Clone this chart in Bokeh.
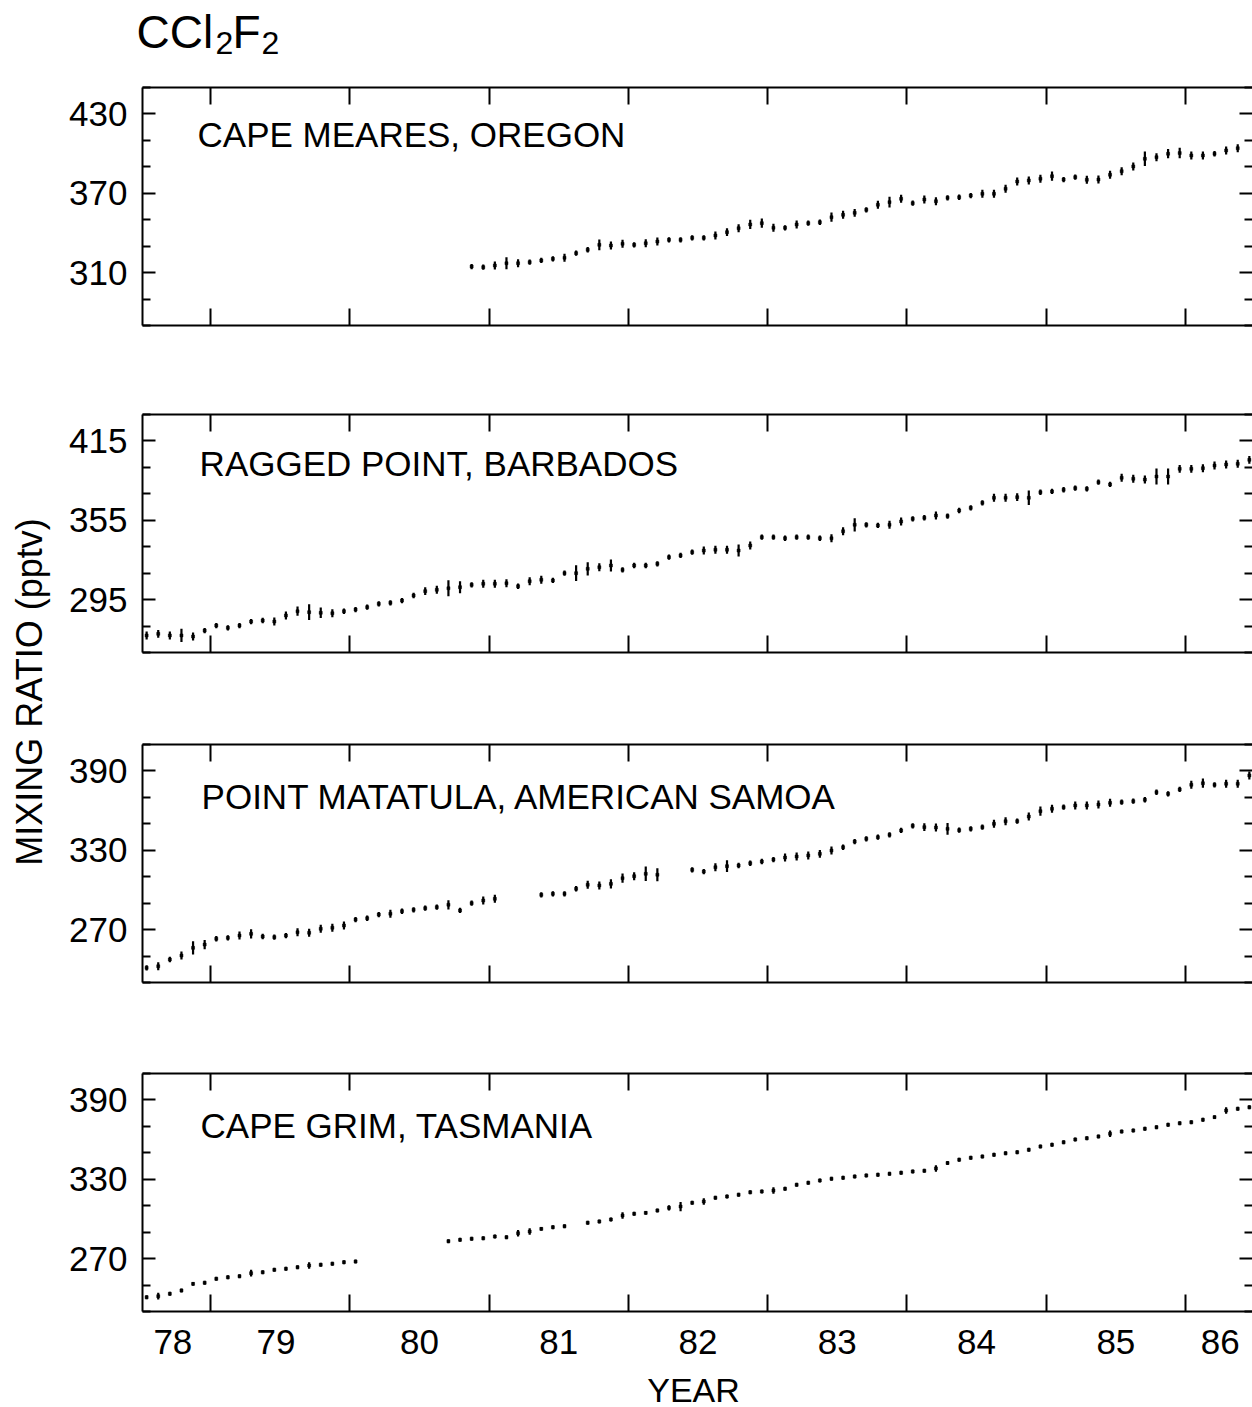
import math
from bokeh.plotting import figure
from bokeh.models import Range1d, LinearAxis, FixedTicker, ColumnDataSource
from bokeh.layouts import row, column
from bokeh.embed import file_html
from bokeh.resources import INLINE
from bokeh.core.properties import value

FONT = "Liberation Sans"

# ---------------- data (monthly means, pptv) ----------------
stations = ["CAPE MEARES, OREGON", "RAGGED POINT, BARBADOS",
            "POINT MATATULA, AMERICAN SAMOA", "CAPE GRIM, TASMANIA"]
first_month = [(1980, 11), (1978, 7), (1978, 7), (1978, 7)]

cape_meares = [314.6, 314.1, 315.4, 317.1, 317.1, 317.9, 319.2, 320.4, 321.2, 324.7,
               327.3, 331.0, 330.5, 331.8, 331.0, 332.2, 333.5, 334.8, 334.8, 336.3,
               336.3, 338.1, 340.6, 343.6, 346.4, 347.4, 343.9, 343.9, 346.4, 347.4,
               348.1, 351.9, 353.7, 355.2, 357.5, 361.3, 363.3, 365.8, 362.5, 365.3,
               364.0, 366.6, 367.0, 368.3, 369.6, 369.6, 373.4, 378.9, 379.7, 381.0,
               382.9, 380.4, 382.2, 380.2, 380.4, 384.0, 386.7, 390.3, 396.1, 397.3,
               399.9, 400.4, 398.6, 398.6, 399.9, 402.4, 404.1]
cape_meares_sd = [2, 2, 3, 4.5, 3, 2, 2, 2, 3, 2,
                  2, 4, 3, 3, 2, 3, 3, 2, 2, 2,
                  2, 3, 3, 3, 3.5, 3.5, 3, 2, 3, 2,
                  2, 3.5, 3, 3, 2, 3, 4, 3, 2, 3,
                  3, 2, 2, 2, 3, 3, 3, 3, 3, 3,
                  3.5, 2, 2, 3, 3, 3, 3, 3, 5.5, 3,
                  3.5, 4, 3, 3, 2, 3, 3]

ragged_point = [267.9, 269.1, 267.9, 267.9, 267.1, 271.6, 275.4, 273.7, 275.4, 278.4,
                279.2, 278.4, 283.0, 286.2, 285.5, 285.0, 284.7, 286.2, 287.5, 289.3,
                291.8, 292.6, 294.3, 298.1, 301.4, 302.4, 303.6, 304.4, 306.2, 307.0,
                307.0, 307.4, 305.1, 308.9, 310.0, 309.5, 315.0, 315.0, 318.3, 319.5,
                320.8, 317.5, 320.8, 320.8, 322.1, 327.1, 328.4, 330.9, 332.1, 332.7,
                332.7, 332.1, 335.9, 342.2, 342.2, 341.4, 342.2, 342.2, 341.4, 341.4,
                346.7, 351.6, 351.6, 351.1, 351.6, 354.1, 356.1, 356.9, 358.6, 358.2,
                362.4, 364.4, 368.2, 372.0, 372.0, 372.5, 372.0, 376.2, 376.8, 378.1,
                379.3, 378.8, 383.8, 382.1, 387.1, 386.4, 385.8, 388.1, 388.1, 393.9,
                393.9, 394.4, 396.4, 397.2, 397.7, 400.7]
ragged_point_sd = [3, 3, 3, 5, 3, 2, 2, 2, 2, 2,
                   2, 3, 3, 3.5, 6, 4, 3, 2, 2, 2,
                   2, 2, 2, 2, 3, 3, 6, 4.5, 2, 3,
                   3, 3, 2, 3, 3, 2, 2, 6, 5, 3,
                   4.5, 2, 2, 2, 2, 2, 2, 2, 3, 3,
                   3, 4.5, 3, 2, 2, 2, 2, 2, 2, 3,
                   3, 5, 2, 2, 3, 3, 2, 2, 3, 2,
                   2, 2, 2, 3, 3, 3, 5.5, 2, 2, 2,
                   2, 2, 2, 2, 3, 3, 3, 6, 6, 3,
                   3, 3, 3, 3, 3, 3]

point_matatula = [241.1, 242.3, 247.4, 250.4, 256.2, 258.7, 263.1, 263.8, 265.5, 266.8,
                  264.8, 264.3, 265.5, 268.0, 267.6, 270.6, 271.4, 273.1, 277.6, 278.6,
                  281.4, 282.0, 283.9, 285.0, 286.2, 287.0, 288.8, 284.5, 290.0, 292.0,
                  293.3, None, None, None, 296.3, 297.1, 297.1, 300.9, 303.9, 303.4,
                  304.6, 308.9, 310.4, 312.2, 311.5, None, None, 315.2, 313.9, 317.2,
                  318.0, 318.5, 320.2, 321.5, 323.0, 324.5, 325.3, 326.1, 327.3, 329.8,
                  332.3, 336.6, 338.7, 339.9, 341.7, 345.0, 348.5, 347.5, 347.2, 346.2,
                  345.2, 346.2, 347.5, 350.0, 352.0, 352.0, 355.5, 359.6, 361.4, 362.6,
                  363.9, 363.9, 364.6, 365.9, 366.4, 367.1, 368.2, 373.9, 372.7, 376.0,
                  379.5, 380.7, 379.5, 380.3, 380.3, 386.6]
point_matatula_sd = [2, 3, 2, 3, 5, 3.5, 2, 2, 3, 3.5,
                     2, 2, 2, 3, 3, 3, 3, 3, 2, 2,
                     2, 3, 2, 2, 2, 2, 3.5, 2, 2, 3,
                     3, None, None, None, 2, 2, 2, 2, 3, 3,
                     3.5, 3.5, 3, 5.5, 5, None, None, 2, 2, 3,
                     4.5, 2, 2, 2, 2, 3, 3, 3, 3, 3,
                     2, 2, 2, 2, 2, 2, 2, 3, 3, 4.5,
                     2, 2, 2, 3, 3, 2, 3, 3.5, 3, 2,
                     3, 3, 3, 3, 2, 2, 2, 2, 2, 2,
                     3, 3.5, 2, 3, 3, 3]

cape_grim = [240.8, 241.6, 243.4, 245.9, 250.9, 251.7, 254.7, 255.9, 256.7, 259.0,
             259.7, 261.5, 262.3, 263.5, 264.8, 265.3, 266.1, 267.3, 267.8, None,
             None, None, None, None, None, None, 283.2, 284.2, 285.0, 285.4,
             286.7, 286.2, 289.2, 290.5, 292.5, 293.8, 294.5, None, 297.1, 298.1,
             299.6, 302.6, 303.9, 304.6, 306.4, 308.4, 309.4, 312.2, 313.2, 316.0,
             317.0, 318.3, 320.2, 320.8, 321.5, 322.8, 325.8, 327.3, 329.1, 330.4,
             331.1, 332.1, 332.9, 333.4, 334.1, 334.9, 335.9, 336.4, 338.2, 342.3,
             344.8, 346.2, 347.2, 348.5, 349.7, 350.5, 352.3, 354.8, 356.1, 358.0,
             360.1, 361.1, 362.4, 364.4, 366.1, 366.9, 368.2, 369.4, 371.2, 372.4,
             373.2, 375.0, 377.0, 382.0, 383.3, 384.5]
cape_grim_sd = [1.5, 2.5, 1.5, 1.5, 1.5, 1.5, 1.5, 1.5, 1.5, 2.5,
                1.5, 1.5, 1.5, 1.5, 2.5, 1.5, 1.5, 1.5, 1.5, None,
                None, None, None, None, None, None, 1.5, 1.5, 1.5, 1.5,
                1.5, 1.5, 2.5, 2.5, 1.5, 1.5, 1.5, None, 1.5, 1.5,
                1.5, 2.5, 1.5, 1.5, 1.5, 2, 3.5, 1.5, 2.5, 1.5,
                1.5, 1.5, 1.5, 1.5, 2.5, 1.5, 1.5, 1.5, 1.5, 1.5,
                1.5, 1.5, 1.5, 1.5, 1.5, 1.5, 1.5, 1.5, 2.5, 1.5,
                1.5, 1.5, 1.5, 1.5, 1.5, 1.5, 1.5, 1.5, 1.5, 1.5,
                1.5, 1.5, 1.5, 2.5, 1.5, 1.5, 1.5, 1.5, 1.5, 1.5,
                1.5, 1.5, 1.5, 2.5, 1.5, 1.5]

series = [cape_meares, ragged_point, point_matatula, cape_grim]
series_sd = [cape_meares_sd, ragged_point_sd, point_matatula_sd, cape_grim_sd]

y_ranges = [(270, 450), (255, 435), (230, 410), (230, 410)]
y_major = [[310, 370, 430], [295, 355, 415], [270, 330, 390], [270, 330, 390]]
y_minor = [[270, 290, 330, 350, 390, 410, 450],
           [255, 275, 315, 335, 375, 395, 435],
           [230, 250, 290, 310, 350, 370, 410],
           [230, 250, 290, 310, 350, 370, 410]]
year_ticks = [1979, 1980, 1981, 1982, 1983, 1984, 1985, 1986]
year_labels = ["78", "79", "80", "81", "82", "83", "84", "85", "86"]

# ---------------- layout ----------------
X_RANGE = (1978.512, 1986.481)
label_pos = [1978.73, 1979.47, 1980.5, 1981.5, 1982.5, 1983.5, 1984.5, 1985.5, 1986.25]
heights = [290, 330, 330, 337]
tops = [7, 44, 44, 43]
bottoms = [45, 48, 48, 56]
label_xy = [(1978.907, 414.1), (1978.922, 397.6), (1978.936, 370.9), (1978.929, 370.7)]
PANELS_H = sum(heights)          # 1287
TITLE_H = 80
YEAR_H = 1407 - TITLE_H - PANELS_H


def tick_only_axis(ticks, minor, tick_in, minor_in, line_color="black"):
    return LinearAxis(ticker=FixedTicker(ticks=ticks, minor_ticks=minor),
                      major_tick_in=tick_in, major_tick_out=0,
                      minor_tick_in=minor_in, minor_tick_out=0,
                      major_tick_line_width=2, minor_tick_line_width=2,
                      axis_line_width=2, axis_line_color=line_color,
                      major_label_text_font_size="1px", major_label_text_color=None,
                      major_label_standoff=0)


def make_panel(i):
    p = figure(width=1192, height=heights[i], x_range=Range1d(*X_RANGE),
               y_range=Range1d(*y_ranges[i]), x_axis_type=None, y_axis_type=None,
               output_backend="svg", toolbar_location=None,
               min_border_left=82, min_border_right=0,
               min_border_top=tops[i], min_border_bottom=bottoms[i])
    p.outline_line_color = None
    p.grid.grid_line_color = None
    p.background_fill_color = "white"
    p.border_fill_color = "white"

    left = LinearAxis(ticker=FixedTicker(ticks=y_major[i], minor_ticks=y_minor[i]),
                      major_tick_in=13, major_tick_out=0, minor_tick_in=8, minor_tick_out=0,
                      major_tick_line_width=2, minor_tick_line_width=2, axis_line_width=2,
                      major_label_text_font=FONT, major_label_text_font_size="35px",
                      major_label_text_color="black", major_label_standoff=15)
    p.add_layout(left, "left")
    p.add_layout(tick_only_axis(y_major[i], y_minor[i], 13, 8, line_color=None), "right")
    p.add_layout(tick_only_axis(year_ticks, [], 17, 0), "above")
    p.add_layout(tick_only_axis(year_ticks, [], 17, 0), "below")

    if i == 3:
        lab = LinearAxis(ticker=FixedTicker(ticks=label_pos, minor_ticks=[]),
                         major_label_overrides={pos: lbl for pos, lbl in zip(label_pos, year_labels)},
                         major_tick_line_color=None, minor_tick_line_color=None,
                         axis_line_color=None, major_label_standoff=12,
                         major_label_text_font=FONT, major_label_text_font_size="35px",
                         major_label_text_color="black")
        p.add_layout(lab, "below")

    y0, m0 = first_month[i]
    xs, lo, hi, ys = [], [], [], []
    for k, (v, s) in enumerate(zip(series[i], series_sd[i])):
        if v is None:
            continue
        mi = (m0 - 1) + k
        xs.append(y0 + (mi + 0.5) / 12.0)
        ys.append(v)
        lo.append(v - s)
        hi.append(v + s)
    src = ColumnDataSource(dict(x=xs, y=ys, lo=lo, hi=hi))
    p.segment(x0="x", y0="lo", x1="x", y1="hi", source=src, line_color="black", line_width=2.2)
    p.scatter(x="x", y="y", source=src, marker="square", size=3, fill_color="black",
              line_color="black", line_width=0.5)

    lx, ly = label_xy[i]
    p.text(x=[lx], y=[ly], text=[stations[i]], text_font=value(FONT),
           text_font_size=value("35px"), text_color="black",
           text_align="left", text_baseline="alphabetic")
    return p


panels = [make_panel(i) for i in range(4)]


def blank_fig(w, h):
    f = figure(width=w, height=h, x_range=Range1d(0, w), y_range=Range1d(0, h),
               x_axis_type=None, y_axis_type=None, output_backend="svg",
               toolbar_location=None, min_border=0)
    f.outline_line_color = None
    f.grid.grid_line_color = None
    return f


# title (page pixel coordinates, y measured up from the figure's bottom)
title_fig = blank_fig(1252, TITLE_H)
title_parts = [("CCl", 136, 49, "46px"), ("2", 215, 37.5, "32px"),
               ("F", 232, 49, "46px"), ("2", 261, 37.5, "32px")]
for txt, tx, ty, fs in title_parts:
    title_fig.text(x=[tx], y=[ty], text=[txt], text_font=value(FONT),
                   text_font_size=value(fs), text_color="black",
                   text_align="left", text_baseline="alphabetic")

# y-axis title
ylab = blank_fig(60, PANELS_H)
ylab.text(x=[29], y=[PANELS_H - (691.5 - TITLE_H)], text=["MIXING RATIO (pptv)"],
          text_font=value(FONT), text_font_size=value("36px"), text_color="black",
          angle=math.pi / 2, text_align="center", text_baseline="alphabetic")

# x-axis title
year_fig = blank_fig(1252, YEAR_H)
year_fig.text(x=[693], y=[1407 - 1389], text=["YEAR"], text_font=value(FONT),
              text_font_size=value("34px"), text_color="black",
              text_align="center", text_baseline="alphabetic")

layout = column(title_fig, row(ylab, column(*panels)), year_fig)

with open("out.html", "w") as f:
    f.write(file_html(layout, INLINE))
